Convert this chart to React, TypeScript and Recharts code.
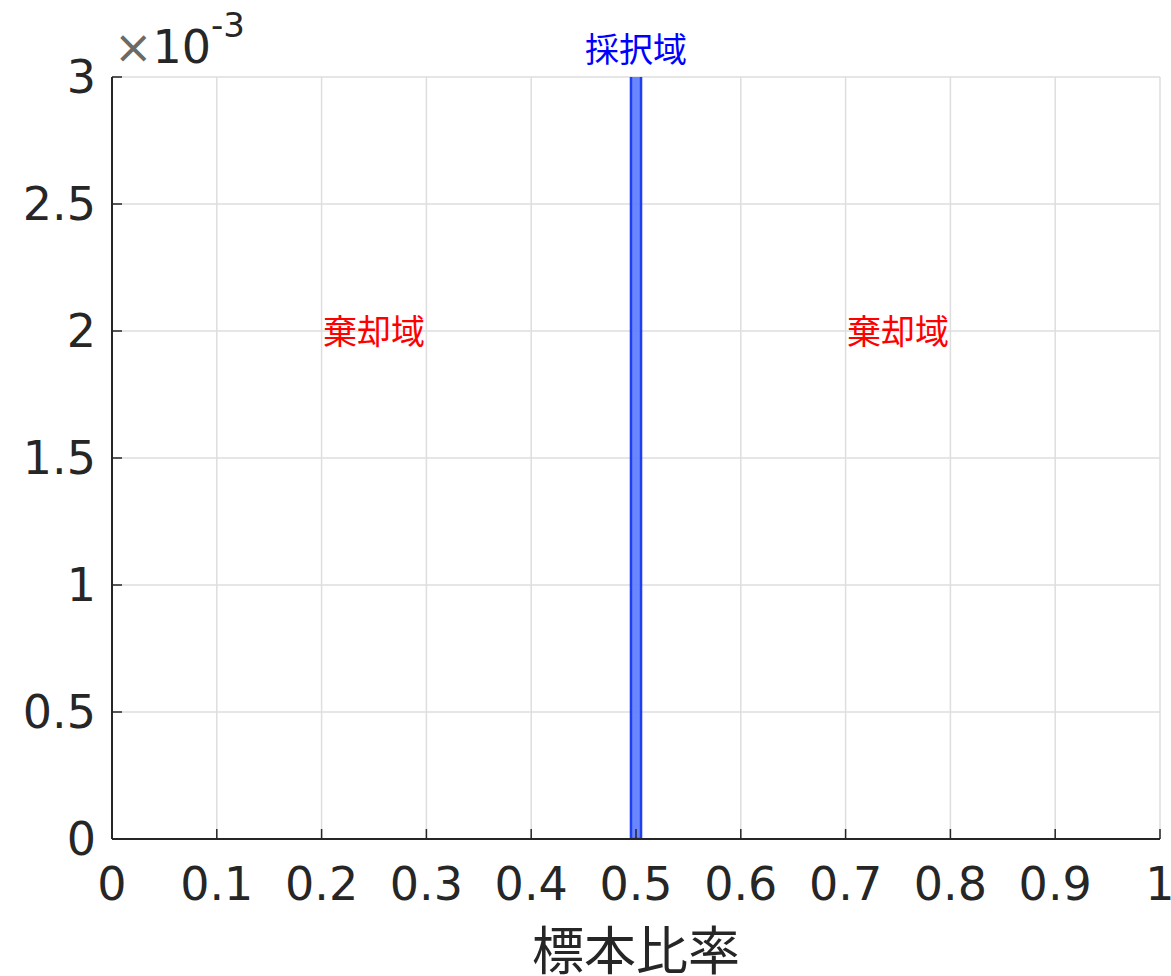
import React from 'react';
import {
  ComposedChart,
  XAxis,
  YAxis,
  CartesianGrid,
  ReferenceArea,
  ReferenceDot,
} from 'recharts';

// ---- data ----
const xTicks = [0, 0.1, 0.2, 0.3, 0.4, 0.5, 0.6, 0.7, 0.8, 0.9, 1];
const yTicks = [0, 0.0005, 0.001, 0.0015, 0.002, 0.0025, 0.003];
const xDomain = [0, 1];
const yDomain = [0, 0.003];
// acceptance region bin (x-range) and its height (extends beyond the top of the axes)
const acceptRange = [0.4952, 0.5048];
const acceptHeight = [0, 0.0036];
const acceptLabel = { x: 0.5, y: 0.003, text: '採択域' };
const rejectLabels = [
  { x: 0.25, y: 0.002, text: '棄却域' },
  { x: 0.75, y: 0.002, text: '棄却域' },
];
const xLabel = '標本比率';
const exponentBase = '×10';
const exponent = '-3';

const dummy = [{ x: 0, y: 0 }, { x: 1, y: 0.003 }];

const AXIS = '#262626';
const TICK_FONT = 'DejaVu Sans';
const CJK_FONT = '"Noto Sans CJK JP", "Noto Sans CJK SC", sans-serif';

const fmtX = (v: number) => String(Math.round(v * 10) / 10);
const fmtY = (v: number) => String(Math.round(v * 10000) / 10);

export default function App() {
  return (
    <div style={{ position: 'absolute', left: 0, top: 0, width: 1171, height: 976, background: '#fff' }}>
      <ComposedChart
        width={1171}
        height={976}
        data={dummy}
        margin={{ top: 77, right: 11, bottom: 0, left: 0 }}
      >
        <CartesianGrid
          xAxisId="b"
          yAxisId="l"
          stroke="#dedede"
          strokeWidth={1.5}
          horizontal
          vertical
          horizontalValues={yTicks}
          verticalValues={xTicks}
        />
        <XAxis
          xAxisId="b"
          dataKey="x"
          type="number"
          domain={xDomain}
          ticks={xTicks}
          tickFormatter={fmtX}
          interval={0}
          height={137}
          tickSize={-10}
          tickMargin={38}
          axisLine={{ stroke: AXIS, strokeWidth: 2 }}
          tickLine={{ stroke: AXIS, strokeWidth: 1.5 }}
          tick={{ fill: AXIS, fontSize: 46, fontFamily: TICK_FONT }}
          allowDataOverflow
          label={(props: any) => {
            const vb = props.viewBox;
            return (
              <text
                x={vb.x + vb.width / 2}
                y={970}
                textAnchor="middle"
                fill={AXIS}
                fontSize={52}
                fontFamily={CJK_FONT}
              >
                {xLabel}
              </text>
            );
          }}
        />
        <XAxis
          xAxisId="t"
          dataKey="x"
          type="number"
          orientation="top"
          domain={xDomain}
          ticks={xTicks}
          height={0}
          tickSize={-10}
          tick={false}
          axisLine={{ stroke: AXIS, strokeWidth: 2 }}
          tickLine={{ stroke: AXIS, strokeWidth: 1.5 }}
          allowDataOverflow
        />
        <YAxis
          yAxisId="l"
          dataKey="y"
          type="number"
          domain={yDomain}
          ticks={yTicks}
          tickFormatter={fmtY}
          interval={0}
          width={112}
          tickSize={-10}
          tickMargin={26}
          axisLine={{ stroke: AXIS, strokeWidth: 2 }}
          tickLine={{ stroke: AXIS, strokeWidth: 1.5 }}
          tick={{ fill: AXIS, fontSize: 46, fontFamily: TICK_FONT }}
          allowDataOverflow
          label={() => (
            <text x={114} y={63} fill={AXIS} fontFamily={TICK_FONT}>
              <tspan fontSize={46} fill="#6a6a6a">{exponentBase.slice(0, 1)}</tspan>
              <tspan fontSize={46}>{exponentBase.slice(1)}</tspan>
              <tspan fontSize={34} dy={-26}>{exponent}</tspan>
            </text>
          )}
        />
        <YAxis
          yAxisId="r"
          dataKey="y"
          type="number"
          orientation="right"
          domain={yDomain}
          ticks={yTicks}
          width={0}
          tickSize={-10}
          tick={false}
          axisLine={{ stroke: AXIS, strokeWidth: 2 }}
          tickLine={{ stroke: AXIS, strokeWidth: 1.5 }}
          allowDataOverflow
        />
        <ReferenceArea
          xAxisId="b"
          yAxisId="l"
          x1={acceptRange[0]}
          x2={acceptRange[1]}
          y1={acceptHeight[0]}
          y2={acceptHeight[1]}
          ifOverflow="hidden"
          fill="#5a7aff"
          fillOpacity={0.9}
          stroke="#2040f0"
          strokeWidth={2.5}
        />
        <ReferenceDot
          xAxisId="b"
          yAxisId="l"
          x={acceptLabel.x}
          y={acceptLabel.y}
          r={0}
          stroke="none"
          fill="none"
          ifOverflow="visible"
          label={(props: any) => {
            const vb = props.viewBox;
            const cx = vb.x + vb.width / 2;
            const cy = vb.y + vb.height / 2;
            return (
              <text x={cx} y={cy - 15} textAnchor="middle" fill="#0000ff" fontSize={34} fontFamily={CJK_FONT}>
                {acceptLabel.text}
              </text>
            );
          }}
        />
        {rejectLabels.map((r, i) => (
          <ReferenceDot
            key={i}
            xAxisId="b"
            yAxisId="l"
            x={r.x}
            y={r.y}
            r={0}
            stroke="none"
            fill="none"
            ifOverflow="visible"
            label={(props: any) => {
              const vb = props.viewBox;
              const cx = vb.x + vb.width / 2;
              const cy = vb.y + vb.height / 2;
              return (
                <text x={cx} y={cy + 13} textAnchor="middle" fill="#ff0000" fontSize={34} fontFamily={CJK_FONT}>
                  {r.text}
                </text>
              );
            }}
          />
        ))}
      </ComposedChart>
    </div>
  );
}
